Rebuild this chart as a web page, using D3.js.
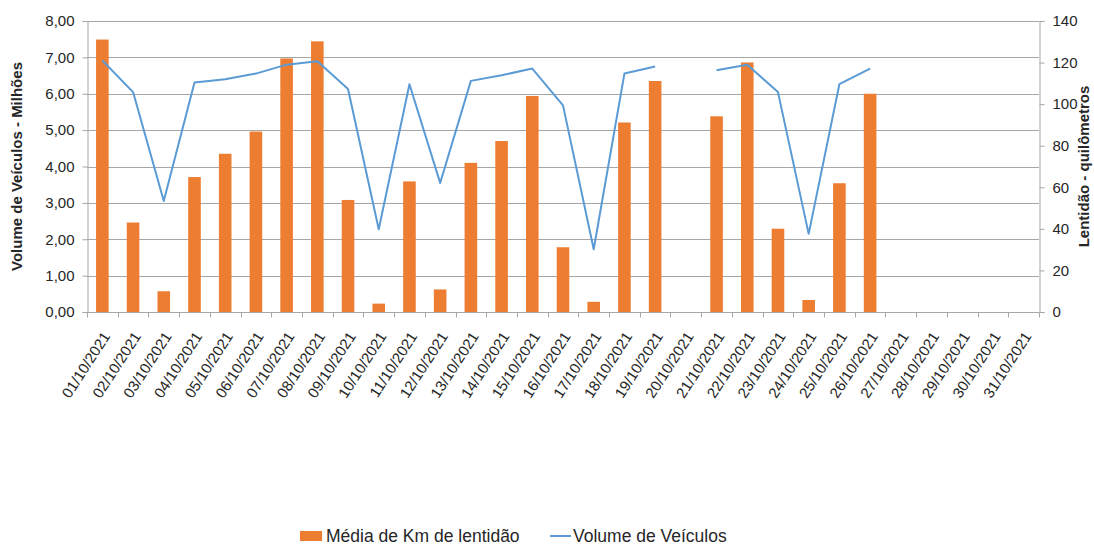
<!DOCTYPE html>
<html lang="pt">
<head>
    <meta charset="UTF-8">
    <title>Média de Km de lentidão x Volume de Veículos - outubro 2021</title>
    <script src="https://d3js.org/d3.v7.min.js"></script>
    <style>
        body { margin: 0; background: #fff; font-family: "Liberation Sans", Arial, sans-serif; }
        svg text { fill: #262626; }
    </style>
</head>
<body>
<div id="chart"></div>
<script>
    // categories: every day of October 2021
    const dias = ["01/10/2021","02/10/2021","03/10/2021","04/10/2021","05/10/2021","06/10/2021","07/10/2021",
        "08/10/2021","09/10/2021","10/10/2021","11/10/2021","12/10/2021","13/10/2021","14/10/2021",
        "15/10/2021","16/10/2021","17/10/2021","18/10/2021","19/10/2021","20/10/2021","21/10/2021",
        "22/10/2021","23/10/2021","24/10/2021","25/10/2021","26/10/2021","27/10/2021","28/10/2021",
        "29/10/2021","30/10/2021","31/10/2021"];

    // bars, left axis (null = no value)
    const mediaKm = [7.49, 2.46, 0.57, 3.71, 4.35, 4.96, 6.97, 7.44, 3.08, 0.23, 3.59, 0.62, 4.10, 4.70,
        5.94, 1.78, 0.28, 5.21, 6.35, null, 5.38, 6.86, 2.29, 0.33, 3.54, 6.00,
        null, null, null, null, null];

    // line, right axis
    const volume = [121.0, 105.8, 53.4, 110.4, 112.0, 114.7, 119.0, 120.6, 107.3, 39.8, 109.6, 62.1, 111.2, 113.9,
        117.1, 99.4, 30.2, 114.7, 118.1, null, 116.3, 118.9, 105.8, 37.6, 109.6, 117.1,
        null, null, null, null, null];

    const leftTicks = [0, 1, 2, 3, 4, 5, 6, 7, 8];
    const rightTicks = [0, 20, 40, 60, 80, 100, 120, 140];

    const width = 1094, height = 545;
    const margin = { top: 21, right: 55, bottom: 233, left: 87 };

    const svg = d3.select("#chart").append("svg")
        .attr("width", width)
        .attr("height", height);

    const x = d3.scaleBand()
        .domain(dias)
        .range([margin.left, width - margin.right])
        .paddingInner(0.59)
        .paddingOuter(0.295);

    const yLeft = d3.scaleLinear().domain([0, 8]).range([height - margin.bottom, margin.top]);
    const yRight = d3.scaleLinear().domain([0, 140]).range([height - margin.bottom, margin.top]);

    const fmt = v => d3.format(".2f")(v).replace(".", ",");
    const axisColor = "#a6a6a6";

    // gridlines
    svg.append("g").selectAll("line")
        .data(leftTicks.slice(1))
        .enter().append("line")
        .attr("x1", margin.left).attr("x2", width - margin.right)
        .attr("y1", d => Math.round(yLeft(d)) + 0.5).attr("y2", d => Math.round(yLeft(d)) + 0.5)
        .attr("stroke", axisColor).attr("stroke-width", 1);

    // bars
    svg.append("g").selectAll("rect")
        .data(dias.map((d, i) => ({ dia: d, v: mediaKm[i] })).filter(d => d.v !== null))
        .enter().append("rect")
        .attr("x", d => x(d.dia))
        .attr("y", d => yLeft(d.v))
        .attr("width", x.bandwidth())
        .attr("height", d => yLeft(0) - yLeft(d.v))
        .attr("fill", "#ed7d31");

    // line with gap
    const line = d3.line()
        .defined(d => d.v !== null)
        .x(d => x(d.dia) + x.bandwidth() / 2)
        .y(d => yRight(d.v));

    svg.append("path")
        .datum(dias.map((d, i) => ({ dia: d, v: volume[i] })))
        .attr("fill", "none")
        .attr("stroke", "#5b9bd5")
        .attr("stroke-width", 2)
        .attr("stroke-linejoin", "round")
        .attr("d", line);

    // x axis with ticks at category boundaries
    const xAxis = svg.append("g")
        .attr("transform", `translate(0,${Math.round(yLeft(0)) + 0.5})`);
    xAxis.append("line")
        .attr("x1", margin.left).attr("x2", width - margin.right)
        .attr("stroke", axisColor);
    const step = x.step();
    xAxis.selectAll(".tk")
        .data(d3.range(dias.length + 1))
        .enter().append("line")
        .attr("x1", i => Math.round(margin.left + i * step) + 0.5)
        .attr("x2", i => Math.round(margin.left + i * step) + 0.5)
        .attr("y1", 0).attr("y2", 5)
        .attr("stroke", axisColor);
    xAxis.selectAll("text")
        .data(dias)
        .enter().append("text")
        .attr("transform", d => `translate(${x(d) + x.bandwidth() / 2 + 4},${21}) rotate(-57)`)
        .attr("text-anchor", "end")
        .attr("dy", "0.35em")
        .style("font-size", "15px")
        .text(d => d);

    // left axis
    const gl = svg.append("g").attr("transform", `translate(${margin.left + 0.5},0)`)
        .call(d3.axisLeft(yLeft).tickValues(leftTicks).tickFormat(fmt).tickSize(5).tickPadding(8));
    gl.select(".domain").attr("stroke", axisColor);
    gl.selectAll(".tick line").attr("stroke", axisColor);
    gl.selectAll(".tick text").style("font-size", "15px").style("font-family", "Liberation Sans, Arial, sans-serif").attr("fill", "#262626");

    // right axis
    const gr = svg.append("g").attr("transform", `translate(${width - margin.right + 0.5},0)`)
        .call(d3.axisRight(yRight).tickValues(rightTicks).tickSize(5).tickPadding(8));
    gr.select(".domain").attr("stroke", axisColor);
    gr.selectAll(".tick line").attr("stroke", axisColor);
    gr.selectAll(".tick text").style("font-size", "15px").style("font-family", "Liberation Sans, Arial, sans-serif").attr("fill", "#262626");

    // axis titles
    svg.append("text")
        .attr("transform", `translate(22,${(yLeft(0) + yLeft(8)) / 2}) rotate(-90)`)
        .attr("text-anchor", "middle")
        .style("font-size", "15px").style("font-weight", "bold")
        .text("Volume de Veículos  - Milhões");

    svg.append("text")
        .attr("transform", `translate(1089,${(yRight(0) + yRight(140)) / 2}) rotate(-90)`)
        .attr("text-anchor", "middle")
        .style("font-size", "15px").style("font-weight", "bold")
        .text("Lentidão - quilômetros");

    // legend
    const lg = svg.append("g").attr("transform", "translate(300,536)");
    lg.append("rect").attr("x", 0).attr("y", -5).attr("width", 22).attr("height", 10).attr("fill", "#ed7d31");
    lg.append("text").attr("x", 26).attr("dy", "0.35em").style("font-size", "17.5px").text("Média de Km de lentidão");
    lg.append("line").attr("x1", 250).attr("x2", 271).attr("stroke", "#5b9bd5").attr("stroke-width", 2);
    lg.append("text").attr("x", 273).attr("dy", "0.35em").style("font-size", "17.5px").text("Volume de Veículos");
</script>
</body>
</html>
